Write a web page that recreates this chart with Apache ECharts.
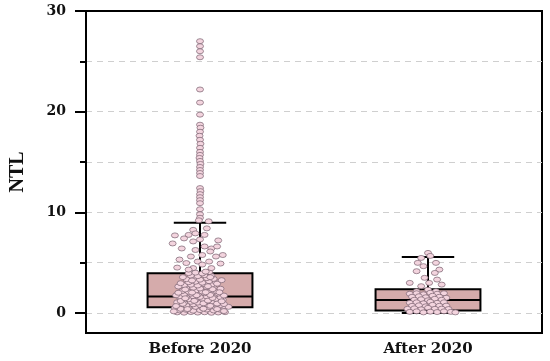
<!DOCTYPE html>
<html>
<head>
<meta charset="utf-8">
<script src="https://cdn.jsdelivr.net/npm/echarts@6/dist/echarts.min.js"></script>
<style>html,body{margin:0;padding:0;background:#fff}#c{width:550px;height:361px}</style>
</head>
<body>
<div id="c"></div>
<script>
const categories = ['Before 2020', 'After 2020'];
// [min, Q1, median, Q3, max]
const boxStats = [
  [0.03, 0.57, 1.62, 3.94, 8.95],
  [0.00, 0.23, 1.29, 2.35, 5.55]
];
const yLabelTicks = [0, 10, 20, 30];
const yGridTicks = [0, 5, 10, 15, 20, 25];

// points: [jitter offset in category units, NTL value]
const beforeUpper = [
  [0.000,27.0],[0.000,26.5],[0.000,26.0],[0.000,25.4],[0.000,22.2],[0.000,20.9],[0.000,19.7],
  [0.000,18.7],[0.002,18.4],[0.000,18.0],[-0.002,17.6],[0.000,17.2],[0.002,16.8],[0.000,16.4],
  [0.000,16.0],[0.000,15.7],[-0.002,15.4],[0.000,15.1],[0.002,14.8],[0.000,14.5],[0.000,14.2],
  [0.000,13.9],[0.000,13.6],[0.000,12.4],[0.002,12.1],[0.000,11.8],[0.000,11.5],[0.000,11.2],
  [0.000,10.9],[0.000,10.3],[0.000,9.8],[0.000,9.45],[-0.005,9.2],[0.038,9.1]
];
const beforeMiddle = [
  [-0.03,8.25],[-0.05,7.75],[-0.02,7.9],[-0.07,7.4],[0.02,7.75],[-0.11,7.7],[-0.03,7.1],
  [-0.08,6.4],[0.02,6.6],[0.05,6.4],[0.075,6.6],[0.045,6.1],[-0.02,6.25],[0.01,5.75],
  [-0.04,5.6],[0.07,5.6],[0.10,5.75],[-0.01,5.1],[0.04,5.1],[-0.06,4.95],[0.01,4.8],
  [-0.03,4.45],[0.05,4.45],[-0.05,4.3],[0.025,4.1],[-0.09,5.3],[0.08,7.2],[-0.12,6.9],
  [0.09,4.9],[-0.10,4.5],[0.00,7.3],[0.03,8.4]
];
const beforeLower = [
  [-0.10,0.05],[-0.07,0.02],[-0.04,0.08],[-0.01,0.03],[0.02,0.06],[0.05,0.01],[0.08,0.04],[0.11,0.07],
  [-0.09,0.25],[-0.06,0.30],[-0.03,0.22],[0.00,0.28],[0.03,0.33],[0.06,0.24],[0.09,0.31],
  [-0.11,0.50],[-0.08,0.55],[-0.05,0.48],[-0.02,0.60],[0.01,0.52],[0.04,0.58],[0.07,0.50],[0.10,0.62],[0.125,0.60],
  [-0.09,0.80],[-0.06,0.75],[-0.03,0.85],[0.00,0.78],[0.03,0.82],[0.06,0.90],[0.09,0.77],
  [-0.10,1.05],[-0.07,1.00],[-0.04,1.10],[-0.01,1.02],[0.02,1.08],[0.05,1.12],[0.08,1.00],
  [-0.08,1.30],[-0.05,1.35],[-0.02,1.28],[0.01,1.40],[0.04,1.32],[0.07,1.38],[0.10,1.30],
  [-0.09,1.60],[-0.06,1.55],[-0.03,1.65],[0.00,1.58],[0.03,1.62],[0.06,1.70],[0.09,1.55],
  [-0.07,1.85],[-0.04,1.90],[-0.01,1.82],[0.02,1.95],[0.05,1.88],[0.08,1.92],
  [-0.08,2.15],[-0.05,2.10],[-0.02,2.20],[0.01,2.12],[0.04,2.25],[0.07,2.18],
  [-0.06,2.45],[-0.03,2.50],[0.00,2.42],[0.03,2.55],[0.06,2.48],[0.09,2.40],
  [-0.07,2.75],[-0.04,2.80],[-0.01,2.72],[0.02,2.85],[0.05,2.78],
  [-0.05,3.05],[-0.02,3.10],[0.01,3.00],[0.04,3.15],[0.07,3.05],
  [-0.06,3.35],[-0.03,3.40],[0.00,3.30],[0.03,3.45],[0.06,3.38],
  [-0.04,3.70],[-0.01,3.65],[0.02,3.75],[0.05,3.68],
  [-0.05,3.95],[-0.02,4.00],[0.01,3.92],[0.04,4.05],
  [-0.115,0.15],[0.105,0.18],[-0.085,0.40],[-0.055,0.38],[0.015,0.42],[0.075,0.38],
  [-0.105,0.68],[0.045,0.70],[-0.075,0.90],[0.015,0.95],[0.075,0.92],[0.105,0.88],
  [-0.085,1.18],[-0.025,1.20],[0.035,1.22],[0.095,1.15],[-0.065,1.45],[0.055,1.48],
  [-0.105,1.75],[-0.015,1.75],[0.045,1.78],[0.105,1.72],[-0.095,2.00],[-0.035,2.02],
  [0.025,2.05],[0.085,2.05],[-0.065,2.32],[0.055,2.35],[-0.095,2.62],[0.035,2.65],
  [-0.085,2.95],[0.075,2.90],[-0.035,3.22],[0.095,3.25],[-0.075,3.55],[0.045,3.55]
];
const afterPoints = [
  [0.00,5.96],[-0.03,5.46],[0.01,5.66],[-0.045,4.97],[0.035,4.97],[-0.02,4.64],[0.05,4.30],
  [-0.05,4.14],[0.03,3.97],[-0.015,3.48],[0.04,3.31],[-0.08,2.98],[0.005,2.98],[-0.03,2.65],
  [0.06,2.81],[0.00,2.31],[-0.05,2.15],[0.035,2.15],
  [-0.08,1.90],[-0.05,1.95],[-0.02,1.85],[0.01,2.00],[0.04,1.90],[0.07,1.95],
  [-0.07,1.60],[-0.04,1.65],[-0.01,1.55],[0.02,1.70],[0.05,1.60],[0.08,1.50],
  [-0.06,1.30],[-0.03,1.35],[0.00,1.25],[0.03,1.40],[0.06,1.30],
  [-0.08,1.00],[-0.05,1.05],[-0.02,0.95],[0.01,1.10],[0.04,1.00],[0.07,1.05],
  [-0.07,0.70],[-0.04,0.75],[-0.01,0.65],[0.02,0.80],[0.05,0.70],[0.08,0.72],
  [-0.09,0.40],[-0.06,0.45],[-0.03,0.35],[0.00,0.50],[0.03,0.40],[0.06,0.42],[0.09,0.38],
  [-0.08,0.10],[-0.05,0.15],[-0.02,0.05],[0.01,0.12],[0.04,0.08],[0.07,0.15],[0.10,0.10],[0.12,0.05]
];

const beforeAll = beforeLower.concat(beforeMiddle, beforeUpper);
function place(points, catIndex) {
  return points.map(p => [catIndex + 0.5 + p[0], p[1]]);
}

const chart = echarts.init(document.getElementById('c'), null, {renderer: 'canvas'});
const serifBold = {fontFamily: 'DejaVu Serif', fontWeight: 'bold', color: '#111'};

chart.setOption({
  animation: false,
  backgroundColor: '#fff',
  grid: {left: 83, right: 8, top: 11, bottom: 28, show: true, borderColor: '#000', borderWidth: 2, backgroundColor: 'transparent'},
  xAxis: [
    {
      type: 'category', data: categories, boundaryGap: true,
      axisLine: {onZero: false, lineStyle: {color: '#000', width: 2}},
      axisTick: {alignWithLabel: true, length: 5, lineStyle: {color: '#000', width: 2}},
      axisLabel: Object.assign({fontSize: 15, margin: 9}, serifBold),
      splitLine: {show: false}
    },
    {type: 'value', min: 0, max: 2, show: false}
  ],
  yAxis: [
    {
      type: 'value', min: -2, max: 30, position: 'left',
      name: 'NTL', nameLocation: 'middle', nameGap: 58,
      nameTextStyle: {fontFamily: 'Liberation Serif', fontWeight: 'bold', fontSize: 20, color: '#111'},
      axisLine: {show: true, lineStyle: {color: '#000', width: 2}},
      axisTick: {show: true, customValues: yLabelTicks, length: 11, lineStyle: {color: '#000', width: 2}},
      axisLabel: Object.assign({customValues: yLabelTicks, fontSize: 14, margin: 20}, serifBold),
      splitLine: {show: false}
    },
    {
      type: 'value', min: -2, max: 30, position: 'left',
      axisLine: {show: false},
      axisTick: {show: true, customValues: yGridTicks, length: 6, lineStyle: {color: '#000', width: 2}},
      axisLabel: {show: false},
      splitLine: {show: true, lineStyle: {color: '#cfcfcf', width: 1, type: [6, 5]}}
    }
  ],
  series: [
    {
      type: 'custom', xAxisIndex: 0, yAxisIndex: 0, z: 2,
      data: boxStats.map((s, i) => [i].concat(s)),
      encode: {x: 0, y: [1, 2, 3, 4, 5]},
      renderItem: function (params, api) {
        const x = api.value(0);
        const pMin = api.coord([x, api.value(1)]);
        const pQ1 = api.coord([x, api.value(2)]);
        const pMed = api.coord([x, api.value(3)]);
        const pQ3 = api.coord([x, api.value(4)]);
        const pMax = api.coord([x, api.value(5)]);
        const band = api.size([1, 0])[0];
        const bw = band * 0.46, cw = band * 0.23;
        const cx = pMed[0];
        const ls = {stroke: '#000', lineWidth: 2};
        return {
          type: 'group',
          children: [
            {type: 'line', shape: {x1: cx, y1: pMax[1], x2: cx, y2: pQ3[1]}, style: ls},
            {type: 'line', shape: {x1: cx, y1: pMin[1], x2: cx, y2: pQ1[1]}, style: ls},
            {type: 'line', shape: {x1: cx - cw / 2, y1: pMax[1], x2: cx + cw / 2, y2: pMax[1]}, style: ls},
            {type: 'line', shape: {x1: cx - cw / 2, y1: pMin[1], x2: cx + cw / 2, y2: pMin[1]}, style: ls},
            {type: 'rect', shape: {x: cx - bw / 2, y: pQ3[1], width: bw, height: pQ1[1] - pQ3[1]},
              style: {fill: '#d5abab', stroke: '#000', lineWidth: 2}},
            {type: 'line', shape: {x1: cx - bw / 2, y1: pMed[1], x2: cx + bw / 2, y2: pMed[1]}, style: ls}
          ]
        };
      }
    },
    {
      type: 'scatter', name: categories[0], xAxisIndex: 1, yAxisIndex: 0, z: 3,
      data: place(beforeAll, 0), symbol: 'circle', symbolSize: [7, 5],
      itemStyle: {color: '#f3d4de', borderColor: '#7a6270', borderWidth: 0.7, opacity: 1}
    },
    {
      type: 'scatter', name: categories[1], xAxisIndex: 1, yAxisIndex: 0, z: 3,
      data: place(afterPoints, 1), symbol: 'circle', symbolSize: [7, 5],
      itemStyle: {color: '#f3d4de', borderColor: '#7a6270', borderWidth: 0.7, opacity: 1}
    }
  ]
});
</script>
</body>
</html>
